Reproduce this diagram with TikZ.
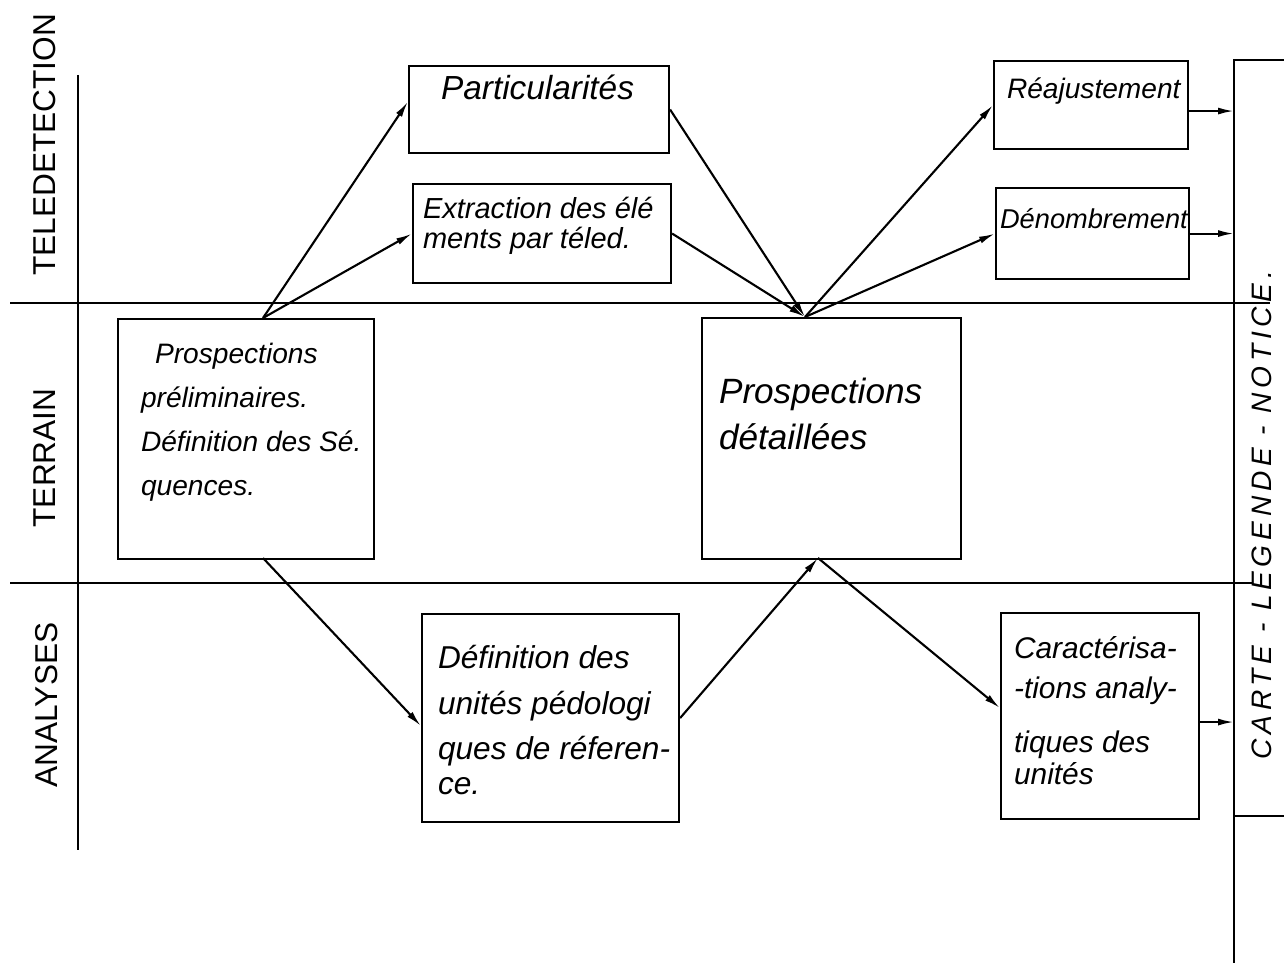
\documentclass[tikz,border=0pt]{standalone}
\usepackage{fontspec}
\setmainfont{Liberation Sans}
\newfontfamily\spacedfont[LetterSpace=17]{Liberation Sans}
\usetikzlibrary{arrows.meta,positioning,calc}

\begin{document}
\begin{tikzpicture}[x=0.02cm,y=-0.02cm,line width=1.2pt,>={Latex[length=3.2mm,width=1.4mm]},
  box/.style={draw,anchor=north west,inner sep=0pt},
  txt/.style={anchor=north west,inner sep=0pt,align=left,font=\fontsize{16}{25}\selectfont\itshape},
  side/.style={rotate=90,inner sep=0pt,font=\fontsize{18}{20}\selectfont}]
\useasboundingbox (0,0) rectangle (1284,963);
% bands
\draw (78,75) -- (78,850);
\draw (10,303) -- (1270,303);
\draw (10,583) -- (1253,583);
\node[side] (tele) at (45,145) {TELEDETECTION};
\node[side] (terr) at (45,458) {TERRAIN};
\node[side] (anal) at (47,705) {ANALYSES};
% result column
\draw (1284,60) -- (1234,60) -- (1234,963);
\draw (1234,816) -- (1284,816);
\coordinate (edge) at (1234,0);
\node[rotate=90,inner sep=0pt,font=\fontsize{16}{18}\spacedfont\itshape] (carte) at (1262,515) {CARTE - LEGENDE - NOTICE.};
% boxes: name/x/y/w/h
\foreach \n/\x/\y/\w/\h in {part/408/65/260/87,extr/412/183/258/99,reaj/993/60/194/88,deno/995/187/193/91,
  pre/117/318/256/240,det/701/317/259/241,def/421/613/257/208,car/1000/612/198/206}
  \node[box,minimum width=\w*0.02cm,minimum height=\h*0.02cm] (\n) at (\x,\y) {};
% texts
\node[txt,font=\fontsize{19}{20}\selectfont\itshape] (partT) at (440,74) {Particularités};
\node[txt,font=\fontsize{16.5}{17}\selectfont\itshape] (extrT) at (422,196) {Extraction des élé\\ments par téled.};
\node[txt] (reajT) at (1006,77) {Réajustement};
\node[txt,font=\fontsize{15.5}{17}\selectfont\itshape] (denoT) at (999,207) {Dénombrement};
\node[txt] (preT) at (140,342) {\hspace*{8pt}Prospections\\préliminaires.\\Définition des Sé.\\quences.};
\node[txt,font=\fontsize{20}{26}\selectfont\itshape] (detT) at (718,377) {Prospections\\détaillées};
\node[txt,font=\fontsize{18}{26}\selectfont\itshape] (defT) at (437,644) {Définition des\\unités pédologi\\ques de réferen-\\[-6pt]ce.};
\node[txt,font=\fontsize{17}{23}\selectfont\itshape] (carT) at (1013,635) {Caractérisa-\\-tions analy-\\[8pt]tiques des\\[-5pt]unités};
% flow
\coordinate (preTop) at (263,318);
\coordinate (preBot) at (263,558);
\coordinate (detTop) at (805,317);
\coordinate (detBot) at (818,558);
\coordinate (reajOut) at ($(reaj.east)+(0,6)$);
\coordinate (carOut) at ($(car.east)+(0,6)$);
\draw[->] (preTop) -- ($(part.west)+(0,-8)$);
\draw[->] (preTop) -- (extr.west);
\draw[->] (part.east) -- (detTop);
\draw[->] (extr.east) -- (detTop);
\draw[->] (detTop) -- (reaj.west);
\draw[->] (detTop) -- (deno.west);
\draw[->] (preBot) -- ($(def.west)+(0,8)$);
\draw[->] (def.east) -- (detBot);
\draw[->] (detBot) -- ($(car.west)+(0,-8)$);
\draw[->] (reajOut) -- (reajOut -| edge);
\draw[->] (deno.east) -- (deno.east -| edge);
\draw[->] (carOut) -- (carOut -| edge);
\end{tikzpicture}
\end{document}
